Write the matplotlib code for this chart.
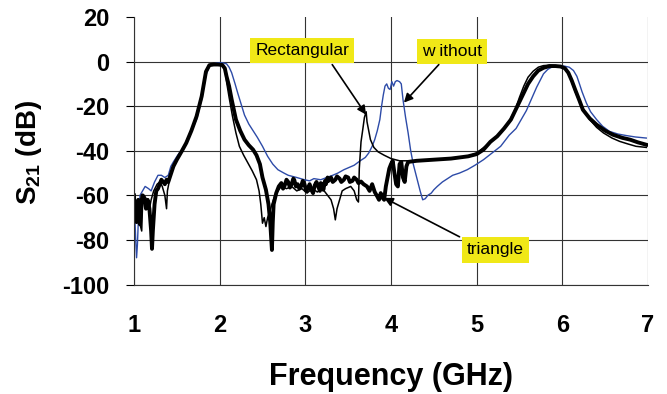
import numpy as np
import matplotlib
matplotlib.use('Agg')
import matplotlib.pyplot as plt

plt.rcParams['font.family'] = 'Liberation Sans'
plt.rcParams['mathtext.fontset'] = 'custom'
plt.rcParams['mathtext.rm'] = 'Liberation Sans:bold'
plt.rcParams['mathtext.bf'] = 'Liberation Sans:bold'

# S21 ohne Struktur (blau)
f_without = [1.00, 1.01, 1.02, 1.03, 1.04, 1.05, 1.07, 1.10, 1.13, 1.17, 1.20, 1.24, 1.28, 1.32, 1.36,
             1.40, 1.43, 1.46, 1.51, 1.57, 1.65, 1.73, 1.79, 1.84, 1.88, 1.93, 1.98, 2.03, 2.08, 2.11,
             2.14, 2.18, 2.21, 2.25, 2.29, 2.34, 2.39, 2.44, 2.50, 2.56, 2.62, 2.68, 2.75, 2.80, 2.90,
             2.99, 3.05, 3.10, 3.18, 3.25, 3.32, 3.38, 3.45, 3.51, 3.57, 3.64, 3.70, 3.74, 3.78, 3.81,
             3.84, 3.87, 3.89, 3.91, 3.93, 3.95, 3.97, 3.99, 4.01, 4.03, 4.05, 4.07, 4.10, 4.12, 4.14,
             4.17, 4.20, 4.23, 4.26, 4.30, 4.34, 4.37, 4.40, 4.43, 4.47, 4.50, 4.54, 4.60, 4.66, 4.72,
             4.80, 4.89, 4.98, 5.08, 5.18, 5.28, 5.38, 5.46, 5.52, 5.58, 5.62, 5.66, 5.70, 5.74, 5.78,
             5.83, 5.88, 5.95, 6.02, 6.08, 6.13, 6.17, 6.20, 6.23, 6.28, 6.33, 6.40, 6.47, 6.55, 6.65,
             6.75, 6.85, 6.98]
s_without = [-62, -70, -80, -88, -82, -72, -60, -58, -56, -57, -58, -54, -51, -51, -52,
             -51, -47, -45, -42, -39, -33, -26, -17, -6, -2, -1, -0.5, -0.5, -1, -2.5,
             -5, -10, -14, -19, -24, -28, -31, -34, -38, -42.5, -46, -48.5, -50, -51, -52,
             -53, -53.5, -52.5, -53, -52, -51, -50, -48.5, -47.5, -46.5, -44.5, -43, -41, -38, -35,
             -31, -26, -20, -15, -11, -10, -12, -12.5, -9, -11, -9, -8.5, -9, -10, -17,
             -25, -32, -40, -46, -52, -58, -62, -61.5, -60, -59, -57.5, -56, -54, -52.5, -51,
             -50, -48.5, -46.5, -44, -41, -38, -33, -30, -26, -22, -18.5, -15, -11.5, -8.5, -5.5,
             -3.5, -2.4, -2, -2, -2.5, -4, -6.6, -10, -13.5, -18.5, -22.5, -26, -29, -31.3, -32.5,
             -33.2, -33.8, -34.3]

# Rectangular (duenn, schwarz)
f_rect = [1.00, 1.01, 1.02, 1.03, 1.04, 1.05, 1.07, 1.09, 1.10, 1.12, 1.15, 1.18, 1.20, 1.23, 1.27,
          1.30, 1.33, 1.36, 1.38, 1.39, 1.42, 1.46, 1.50, 1.56, 1.61, 1.67, 1.73, 1.79, 1.84, 1.88,
          1.93, 1.98, 2.03, 2.06, 2.08, 2.11, 2.15, 2.19, 2.23, 2.28, 2.33, 2.38, 2.43, 2.46, 2.48,
          2.50, 2.52, 2.54, 2.56, 2.58, 2.61, 2.64, 2.68, 2.72, 2.78, 2.84, 2.90, 2.96, 3.02, 3.08,
          3.14, 3.20, 3.26, 3.30, 3.33, 3.35, 3.37, 3.40, 3.43, 3.47, 3.53, 3.57, 3.60, 3.62, 3.63,
          3.65, 3.67, 3.69, 3.71, 3.72, 3.74, 3.76, 3.80, 3.85, 3.92, 4.00, 4.10, 4.30, 4.50, 4.70,
          4.90, 5.00, 5.10, 5.20, 5.30, 5.39, 5.45, 5.50, 5.55, 5.60, 5.66, 5.72, 5.78, 5.85, 5.92,
          5.98, 6.03, 6.07, 6.11, 6.15, 6.21, 6.26, 6.32, 6.40, 6.48, 6.58, 6.67, 6.77, 6.86, 6.98]
s_rect = [-60, -65, -72, -68, -62, -66, -73, -76, -64, -60, -62, -66, -62, -58, -55,
          -54, -56, -60, -66, -58, -52, -47, -44, -40, -36, -30.5, -24.6, -15.6, -5, -1.6,
          -1.2, -1.2, -1.5, -3, -9, -16, -24.6, -32, -38, -42, -45.5, -49, -53, -58, -64,
          -72.5, -70, -74, -70, -68, -64, -60.5, -58, -56, -57, -56, -58, -57, -59, -57,
          -58.5, -57, -60, -62, -66, -71, -66, -62, -58, -57, -56, -58, -62, -63, -48,
          -36, -30.6, -25, -22.5, -27, -31, -35, -38.5, -40.5, -42, -43.5, -44.5, -44.5, -44, -43.5,
          -42.5, -41, -38, -35, -31, -26, -21.6, -16, -11, -7, -4.3, -2.5, -1.8, -1.6, -1.8,
          -2, -3, -5, -9, -13.5, -18.6, -22.5, -26, -29.5, -32, -34.3, -35.8, -37, -38, -38.5]

# triangle (dick, schwarz)
f_tri = [1.00, 1.01, 1.02, 1.03, 1.04, 1.05, 1.06, 1.07, 1.08, 1.10, 1.12, 1.14, 1.16, 1.18, 1.20,
         1.21, 1.22, 1.24, 1.26, 1.28, 1.30, 1.32, 1.34, 1.36, 1.38, 1.40, 1.43, 1.46, 1.50, 1.56,
         1.61, 1.67, 1.73, 1.79, 1.84, 1.88, 1.93, 1.98, 2.03, 2.06, 2.08, 2.11, 2.14, 2.19, 2.24,
         2.29, 2.34, 2.39, 2.43, 2.47, 2.50, 2.54, 2.57, 2.59, 2.61, 2.62, 2.63, 2.66, 2.69, 2.72,
         2.74, 2.76, 2.78, 2.80, 2.82, 2.84, 2.86, 2.87, 2.89, 2.91, 2.93, 2.95, 2.97, 2.99, 3.01,
         3.03, 3.05, 3.07, 3.09, 3.11, 3.13, 3.15, 3.17, 3.18, 3.20, 3.21, 3.23, 3.24, 3.26, 3.27,
         3.30, 3.32, 3.35, 3.37, 3.40, 3.42, 3.45, 3.47, 3.50, 3.52, 3.55, 3.57, 3.60, 3.62, 3.65,
         3.68, 3.72, 3.75, 3.78, 3.81, 3.84, 3.86,
         3.88, 3.90, 3.92, 3.94, 3.96, 3.98, 4.00, 4.02, 4.04, 4.06, 4.08, 4.10, 4.12, 4.14, 4.16,
         4.18, 4.20, 4.30, 4.50, 4.70, 4.90, 5.00, 5.08, 5.16, 5.24, 5.32, 5.40, 5.45, 5.50, 5.55,
         5.60, 5.66, 5.72, 5.78, 5.85, 5.92, 5.98, 6.03, 6.07, 6.11, 6.15, 6.20, 6.24, 6.32, 6.40,
         6.50, 6.59, 6.70, 6.79, 6.88, 6.98]
s_tri = [-60, -70, -63, -72, -66, -62, -70, -73, -64, -60, -62, -66, -62, -66, -76,
         -84, -76, -64, -58, -57, -55, -53, -54, -55, -53, -54, -50.5, -47, -44, -40,
         -36.5, -31, -24.6, -15.6, -4.5, -1.6, -1.3, -1.3, -1.5, -3, -6.6, -11, -17, -26, -31,
         -35, -37.5, -39.5, -42, -46, -52, -57.5, -64, -72, -84.5, -72, -64, -59, -56, -54.5,
         -57, -55.5, -53, -54, -56.5, -55, -52.5, -53, -56, -55, -57, -56, -53.5, -55, -58,
         -57, -55, -57.5, -59, -55.5, -54, -56, -58, -54.5, -55, -57.5, -53.5, -55, -52, -53.5,
         -52, -54, -53, -51.5, -52.5, -54, -53, -51.5, -52, -54, -53.5, -52, -53, -54.5, -53.8,
         -55, -56, -58, -55, -58.5, -60.5, -62,
         -59, -61, -62, -56, -52, -48, -46, -44.5, -50, -55, -56, -46, -45, -52, -54,
         -47, -45, -44.5, -44, -43.5, -42.5, -41.5, -39.5, -36, -33.5, -30, -26, -22, -18, -14,
         -10, -6.6, -4, -2.8, -2, -2, -2.2, -3, -5, -8.5, -12.6, -17.5, -21.6, -25.5, -28.3,
         -31, -32.8, -34.2, -35, -36.2, -37.3]

x_ticks = [1, 2, 3, 4, 5, 6, 7]
y_ticks = [-100, -80, -60, -40, -20, 0, 20]

fig = plt.figure(figsize=(6.67, 3.94), dpi=100)
ax = fig.add_axes([0.2009, 0.2779, 0.7706, 0.6789])

ax.plot(f_without, s_without, color='#2d4ba8', lw=1.0)
ax.plot(f_rect, s_rect, color='black', lw=1.1)
ax.plot(f_tri, s_tri, color='black', lw=2.8)

ax.set_xlim(1, 7)
ax.set_ylim(-100, 20)
ax.set_xticks(x_ticks)
ax.set_yticks(y_ticks)
ax.set_xticklabels([str(t) for t in x_ticks], fontsize=17, fontweight='bold')
ax.set_yticklabels([str(t) for t in y_ticks], fontsize=17, fontweight='bold')
ax.tick_params(axis='x', length=0, pad=21)
ax.tick_params(axis='y', length=6, width=0.8, pad=11.5, direction='out')

ax.grid(True, color='#333333', lw=0.8)
ax.set_axisbelow(True)
ax.yaxis.get_gridlines()[-1].set_visible(False)
for s in ['top', 'right']:
    ax.spines[s].set_visible(False)
for s in ['left', 'bottom']:
    ax.spines[s].set_linewidth(0.8)
    ax.spines[s].set_color('#333333')

fig.text(0.586, 1 - 385 / 394, 'Frequency (GHz)', fontsize=22, fontweight='bold',
         ha='center', va='baseline')
fig.text(29 / 667, 1 - 152 / 394, r'$\mathbf{S}_{\mathbf{21}}$' + ' (dB)', fontsize=20,
         fontweight='bold', rotation=90, ha='center', va='center')

box = dict(boxstyle='square,pad=0.3', fc='#f0e817', ec='none')
ax.text(2.965, 4.9, 'Rectangular', fontsize=12.5, ha='center', va='center', bbox=box)
ax.text(4.71, 4.5, 'w ithout', fontsize=12.5, ha='center', va='center', bbox=box)
ax.text(5.22, -84.5, 'triangle', fontsize=12.5, ha='center', va='center', bbox=box)

arrow = dict(arrowstyle='-|>', color='black', lw=1.2, mutation_scale=13, shrinkA=0, shrinkB=0)
ax.annotate('', xy=(3.709, -23.8), xytext=(3.314, -1.35), arrowprops=arrow)
ax.annotate('', xy=(4.151, -18.4), xytext=(4.558, -1.35), arrowprops=arrow)
ax.annotate('', xy=(3.919, -61.1), xytext=(4.80, -78.6), arrowprops=arrow)

fig.savefig('out.png', dpi=100)
